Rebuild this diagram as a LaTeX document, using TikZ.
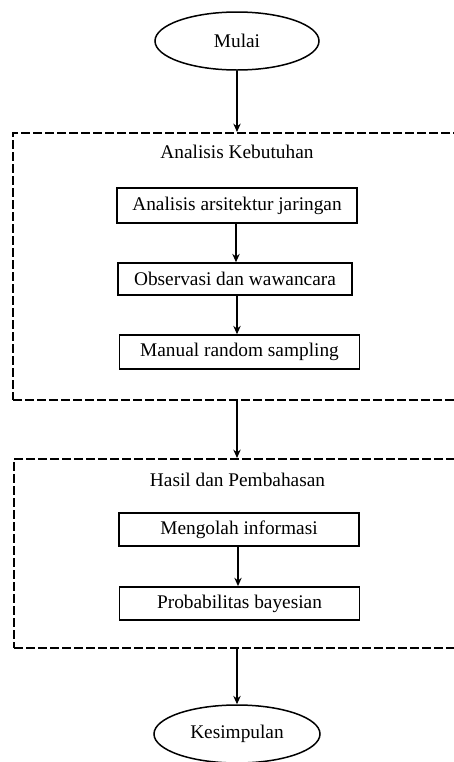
\documentclass[tikz,border=0pt]{standalone}
\usepackage{fontspec}
\setmainfont{Liberation Serif}
\usepackage{tikz}
\usetikzlibrary{arrows.meta,shapes}

\begin{document}
\begin{tikzpicture}[x=0.6pt,y=-0.6pt,
  font=\fontsize{11.6}{14}\selectfont,
  terminal/.style={draw,ellipse,line width=0.9pt,inner sep=0pt,minimum width=98.4pt,minimum height=34.8pt},
  proses/.style={draw,rectangle,line width=0.9pt,inner sep=0pt,minimum width=144pt,minimum height=20pt},
  tahap/.style={draw,rectangle,line width=1.2pt,dash pattern=on 5.4pt off 1.8pt,inner sep=0pt},
  alur/.style={-{Stealth[length=5pt,width=4.4pt]},line width=0.9pt}]

\useasboundingbox (0,0) rectangle (453,762);

\node (mulai) at (237,41)[terminal] {Mulai};

\node (tahapA) at (241.5,266.5)[tahap,minimum width=274.2pt,minimum height=160.2pt] {};
\node (judulA) at (237,152) {Analisis Kebutuhan};
\node (arsitektur) at (237,205.5)[proses,minimum height=21pt] {Analisis arsitektur jaringan};
\node (observasi) at (235,279)[proses,minimum width=140.4pt,minimum height=19.2pt] {Observasi dan wawancara};
\node (sampling) at (239.5,352)[proses,minimum height=20.4pt] {Manual random sampling};

\node (tahapB) at (242,553.5)[tahap,minimum width=273.6pt,minimum height=113.4pt] {};
\node (judulB) at (237.5,480) {Hasil dan Pembahasan};
\node (informasi) at (239,529.5)[proses] {Mengolah informasi};
\node (bayes) at (239.5,603.5)[proses] {Probabilitas bayesian};

\node (selesai) at (237,734)[terminal,minimum width=99.6pt] {Kesimpulan};

\draw [alur] (mulai) -- (mulai |- tahapA.north);
\draw [alur] (arsitektur.south -| 236,0) -- (observasi.north -| 236,0);
\draw [alur] (observasi.south -| 237,0) -- (sampling.north -| 237,0);
\draw [alur] (mulai |- tahapA.south) -- (mulai |- tahapB.north);
\draw [alur] (informasi.south -| 238,0) -- (bayes.north -| 238,0);
\draw [alur] (selesai |- tahapB.south) -- (selesai);
\end{tikzpicture}
\end{document}
